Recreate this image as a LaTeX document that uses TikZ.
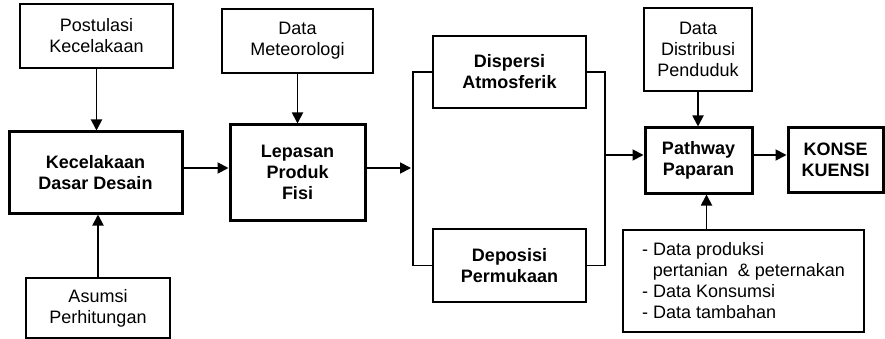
\documentclass[tikz,border=0pt]{standalone}
\usepackage{fontspec}
\setmainfont{Liberation Sans}
\usetikzlibrary{arrows.meta}

\begin{document}
\begin{tikzpicture}[x=1pt, y=-1pt,
  every node/.style={font=\fontsize{18}{21}\selectfont, align=center},
  box/.style={draw, line width=1.5pt, inner sep=2pt},
  mainbox/.style={box, line width=3pt, font=\fontsize{18}{21}\selectfont\bfseries},
  procbox/.style={mainbox, line width=2.3pt},
  arr/.style={-{Triangle[length=11pt,width=11pt]}, line width=1.8pt},
  link/.style={line width=1.8pt}]
  \useasboundingbox (0,0) rectangle (885,339);

  % inputs
  \node[box, minimum width=153pt, minimum height=64pt] (post) at (96.5,36) {Postulasi\\Kecelakaan};
  \node[box, minimum width=144pt, minimum height=60pt] (asumsi) at (98,308) {Asumsi\\Perhitungan};
  \node[box, minimum width=151pt, minimum height=64pt] (met) at (297.5,41) {Data\\Meteorologi};
  \node[box, minimum width=108pt, minimum height=83pt] (distr) at (698,49.5) {Data\\Distribusi\\Penduduk};
  \node[box, minimum width=241pt, minimum height=102pt, align=left] (extra) at (743.5,281)
    {- Data produksi\\\hspace{0.6em}pertanian~~\&~peternakan\\- Data Konsumsi\\- Data tambahan};

  % main chain
  \node[mainbox, minimum width=173pt, minimum height=81pt] (kda) at (95.5,172.5) {Kecelakaan\\Dasar Desain};
  \node[mainbox, minimum width=135pt, minimum height=95pt] (lepas) at (297.5,172.5) {Lepasan\\Produk\\Fisi};
  \node[procbox, minimum width=153pt, minimum height=72pt] (disp) at (509.5,72) {Dispersi\\Atmosferik};
  \node[procbox, minimum width=153pt, minimum height=73pt] (depo) at (509.5,265.5) {Deposisi\\Permukaan};
  \node[mainbox, minimum width=107pt, minimum height=65pt] (path) at (698.5,160.5) {Pathway\\Paparan};
  \node[mainbox, minimum width=95pt, minimum height=64pt] (konse) at (835.5,160) {KONSE\\KUENSI};

  \coordinate (split) at (413,168);
  \coordinate (merge) at (605,155);

  \draw[arr] (post.south) -- (post.south |- kda.north);
  \draw[arr] (asumsi.north) -- (asumsi.north |- kda.south);
  \draw[arr] (met.south) -- (met.south |- lepas.north);
  \draw[arr] (distr.south) -- (distr.south |- path.north);
  \draw[arr] ([xshift=8pt]path.south |- extra.north) -- ([xshift=8pt]path.south);

  \draw[arr] (kda.east |- split) -- (lepas.west |- split);
  \draw[arr] (lepas.east |- split) -- ([xshift=-2pt]split);
  \draw[link] (disp.west) -| (split) |- (depo.west);
  \draw[link] (disp.east) -| (merge) |- (depo.east);
  \draw[arr] (merge) -- (merge -| path.west);
  \draw[arr] (path.east |- merge) -- (konse.west |- merge);
\end{tikzpicture}
\end{document}
